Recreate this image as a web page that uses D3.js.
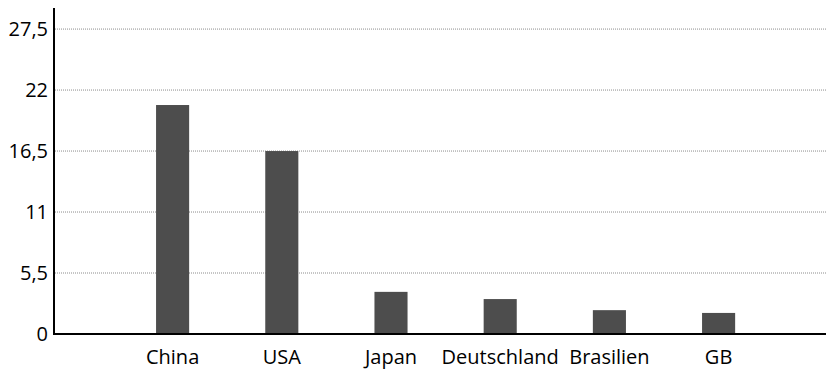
<!DOCTYPE html>
<html>
<head>
<meta charset="utf-8">
<script src="https://cdn.jsdelivr.net/npm/d3@7"></script>
<style>
  body { margin: 0; background: #fff; }
  svg text { font-family: "Open Sans", sans-serif; fill: #000; }
</style>
</head>
<body>
<div id="chart"></div>
<script>
// data
const countries = ["China", "USA", "Japan", "Deutschland", "Brasilien", "GB"];
const values = [20.65, 16.5, 3.8, 3.15, 2.15, 1.9];
const tickValues = [0, 5.5, 11, 16.5, 22, 27.5];
const tickLabels = ["0", "5,5", "11", "16,5", "22", "27,5"];

const width = 830, height = 371;
const margin = { top: 8, right: 4, bottom: 37, left: 55 };
const innerW = width - margin.left - margin.right;
const innerH = height - margin.top - margin.bottom;

const svg = d3.select("#chart")
    .append("svg")
    .attr("width", width)
    .attr("height", height);

const g = svg.append("g")
    .attr("transform", `translate(${margin.left},${margin.top})`);

// scales
const yScale = d3.scaleLinear()
    .domain([0, 29.4])
    .range([innerH, 0]);

const pad = 0.697;
const xScale = d3.scaleBand()
    .domain(countries)
    .range([63, 63 + 6 * 109.2])
    .paddingInner(pad)
    .paddingOuter(pad / 2);

// dotted gridlines
g.selectAll(".grid")
    .data(tickValues.filter(d => d > 0))
    .enter()
    .append("line")
    .attr("class", "grid")
    .attr("x1", 0)
    .attr("x2", innerW)
    .attr("y1", d => yScale(d))
    .attr("y2", d => yScale(d))
    .attr("stroke", "#8c8c8c")
    .attr("stroke-width", 1)
    .attr("stroke-dasharray", "1,1");

// bars
g.selectAll(".bar")
    .data(values)
    .enter()
    .append("rect")
    .attr("class", "bar")
    .attr("x", (d, i) => xScale(countries[i]))
    .attr("y", d => yScale(d))
    .attr("width", xScale.bandwidth())
    .attr("height", d => innerH - yScale(d))
    .attr("fill", "#4d4d4d");

// y axis
const yAxis = g.append("g")
    .call(d3.axisLeft(yScale)
        .tickValues(tickValues)
        .tickSize(0)
        .tickPadding(7)
        .tickFormat((d, i) => tickLabels[i]));
yAxis.select(".domain").remove();
yAxis.selectAll("text").attr("font-size", "20px").attr("font-family", "Open Sans");

// x axis labels
const xAxis = g.append("g")
    .attr("transform", `translate(0,${innerH})`)
    .call(d3.axisBottom(xScale).tickSize(0).tickPadding(16));
xAxis.select(".domain").remove();
xAxis.selectAll("text").attr("font-size", "20px").attr("font-family", "Open Sans");

// axis lines
g.append("line")
    .attr("x1", -1).attr("x2", -1)
    .attr("y1", 0).attr("y2", innerH + 1)
    .attr("stroke", "#000").attr("stroke-width", 2);
g.append("line")
    .attr("x1", -2).attr("x2", innerW)
    .attr("y1", innerH).attr("y2", innerH)
    .attr("stroke", "#000").attr("stroke-width", 2);
</script>
</body>
</html>
